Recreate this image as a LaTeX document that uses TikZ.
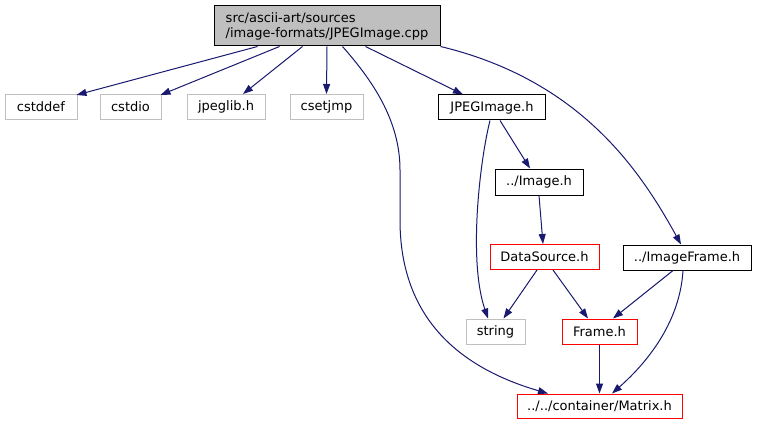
\documentclass[tikz,border=0pt]{standalone}
\usepackage{fontspec}
\setmainfont{DejaVu Sans}
\usetikzlibrary{arrows.meta}
\definecolor{edgecol}{HTML}{191970}
\definecolor{sysgray}{HTML}{BFBFBF}
\definecolor{mainfill}{HTML}{BFBFBF}
\definecolor{redline}{HTML}{FF0000}
\begin{document}
\begin{tikzpicture}[x=1pt,y=-1pt,
  box/.style={draw, rectangle, inner sep=0pt, font=\fontsize{13}{15}\selectfont, line width=1pt, minimum height=25pt},
  sysbox/.style={box, draw=sysgray},
  redbox/.style={box, draw=redline},
  blkbox/.style={box, draw=black},
  dep/.style={draw=edgecol, line width=1pt, -{Triangle[length=10pt,width=7pt]}},
]
\useasboundingbox (0,0) rectangle (757,425);
\fill[white] (0,0) rectangle (757,425);

\node[box, fill=mainfill, draw=black, minimum width=226pt, minimum height=40pt, align=left] (main) at (327,26) {src/ascii-art/sources\\/image-formats/JPEGImage.cpp};

\node[sysbox, minimum width=72pt] (cstddef) at (41,107) {cstddef};
\node[sysbox, minimum width=61pt] (cstdio) at (130.5,107) {cstdio};
\node[sysbox, minimum width=78pt] (jpeglib) at (226,107) {jpeglib.h};
\node[sysbox, minimum width=73pt] (csetjmp) at (326.5,107) {csetjmp};
\node[blkbox, minimum width=107pt] (jpegh) at (492,107.5) {JPEGImage.h};
\node[blkbox, minimum width=88pt, minimum height=26pt] (imageh) at (539,182) {../Image.h};
\node[redbox, minimum width=109pt] (datasrc) at (544.5,257) {DataSource.h};
\node[blkbox, minimum width=128pt] (imgframe) at (687,257.5) {../ImageFrame.h};
\node[sysbox, minimum width=59pt] (string) at (495.5,331.5) {string};
\node[redbox, minimum width=75pt] (frame) at (599.5,331.5) {Frame.h};
\node[redbox, minimum width=165pt, minimum height=24pt] (matrix) at (599.5,406) {../../container/Matrix.h};

\draw[dep] ([xshift=44pt]main.south west) -- ([xshift=-1pt,yshift=-1pt]cstddef.north east);
\draw[dep] ([xshift=66pt]main.south west) -- ([xshift=-1pt,yshift=-1pt]cstdio.north east);
\draw[dep] ([xshift=89pt]main.south west) -- ([xshift=17pt]jpeglib.north);
\draw[dep] (main.south) -- (csetjmp.north);
\draw[dep] ([xshift=129pt]main.south west) .. controls (372,80) and (400,120) .. (400,170) -- (400,220) .. controls (400,310) and (450,365) .. ([xshift=-51.5pt]matrix.north);
\draw[dep] ([xshift=152pt]main.south west) -- ([xshift=-29pt]jpegh.north);
\draw[dep] (main.south east) .. controls (580,80) and (640,170) .. ([xshift=-6pt]imgframe.north);
\draw[dep] ([xshift=-2pt]jpegh.south) .. controls (480,160) and (468,260) .. ([xshift=-7.5pt]string.north);
\draw[dep] ([xshift=8pt]jpegh.south) -- ([xshift=-9pt]imageh.north);
\draw[dep] (imageh.south) -- ([xshift=-1.5pt]datasrc.north);
\draw[dep] ([xshift=-7.5pt]datasrc.south) -- ([xshift=8pt]string.north);
\draw[dep] ([xshift=8.5pt]datasrc.south) -- ([xshift=-11.5pt]frame.north);
\draw[dep] ([xshift=-14pt]imgframe.south) -- ([xshift=13.5pt]frame.north);
\draw[dep] ([xshift=-4pt]imgframe.south) .. controls (680,320) and (650,360) .. ([xshift=12.5pt]matrix.north);
\draw[dep] (frame.south) -- (matrix.north);
\end{tikzpicture}
\end{document}
